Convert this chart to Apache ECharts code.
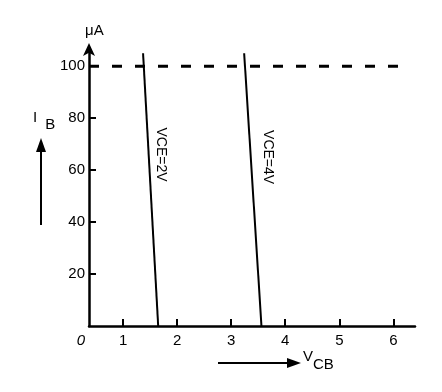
<!DOCTYPE html>
<html>
<head>
<meta charset="utf-8">
<script src="https://cdn.jsdelivr.net/npm/echarts@6/dist/echarts.min.js"></script>
<style>html,body{margin:0;padding:0;background:#fff;}#c{width:442px;height:392px;}</style>
</head>
<body>
<div id="c"></div>
<script>
// ---- data ----
var xTickValues = [1, 2, 3, 4, 5, 6];
var xLabelValues = [0.37, 1, 2, 3, 4, 5, 6];
var yTickValues = [20, 40, 60, 80, 100];
var vce2Line = [[1.37, 105], [1.65, 0]];
var vce4Line = [[3.24, 105], [3.56, 0]];
var ibLimit = [[0.37, 100], [6.1, 100]];
var lineLabels = ['VCE=2V', 'VCE=4V'];
var labelCoords = [[1.69, 66], [3.67, 65]];

var FONT = 'Liberation Sans, Arial, sans-serif';
var chart = echarts.init(document.getElementById('c'));
chart.setOption({
  animation: false,
  backgroundColor: '#fff',
  grid: { left: 89, right: 27, top: 48, bottom: 66 },
  xAxis: {
    type: 'value', min: 0.37, max: 6.4,
    splitLine: { show: false },
    axisLine: { lineStyle: { color: '#000', width: 2.5 } },
    axisTick: { show: true, inside: true, length: 7, customValues: xTickValues, lineStyle: { color: '#000', width: 2 } },
    axisLabel: {
      customValues: xLabelValues, margin: 7, color: '#000', fontFamily: FONT, fontSize: 15,
      formatter: function (v) { return v < 0.5 ? '{z|0}' : String(Math.round(v)); },
      rich: { z: { fontStyle: 'italic', fontFamily: FONT, fontSize: 15, color: '#000', padding: [0, 16, 0, 0] } }
    }
  },
  yAxis: {
    type: 'value', min: 0, max: 107,
    splitLine: { show: false },
    axisLine: { symbol: ['none', 'arrow'], symbolSize: [9, 13], symbolOffset: [0, 5], lineStyle: { color: '#000', width: 2.5 } },
    axisTick: { show: true, inside: true, length: 7, customValues: yTickValues, lineStyle: { color: '#000', width: 2 } },
    axisLabel: { customValues: yTickValues, margin: 4, color: '#000', fontFamily: FONT, fontSize: 15 }
  },
  graphic: [
    { type: 'text', left: 85, top: 23, style: { text: 'μA', font: '15px ' + FONT, fill: '#000' } },
    { type: 'text', left: 33, top: 110, style: { text: '{i|I}{b|B}', rich: { i: { fontSize: 15, fontFamily: FONT, fill: '#000', padding: [0, 8, 8, 0] }, b: { fontSize: 15, fontFamily: FONT, fill: '#000', padding: [6, 0, 0, 0] } } } },
    { type: 'line', shape: { x1: 41, y1: 225, x2: 41, y2: 150 }, style: { stroke: '#000', lineWidth: 2 } },
    { type: 'polygon', shape: { points: [[41, 138], [36, 152], [46, 152]] }, style: { fill: '#000' } },
    { type: 'line', shape: { x1: 218, y1: 363, x2: 290, y2: 363 }, style: { stroke: '#000', lineWidth: 2 } },
    { type: 'polygon', shape: { points: [[301, 363], [287, 358], [287, 368]] }, style: { fill: '#000' } },
    { type: 'text', left: 303, top: 349, style: { text: '{v|V}{s|CB}', rich: { v: { fontSize: 15, fontFamily: FONT, fill: '#000', padding: [0, 0, 8, 0] }, s: { fontSize: 15, fontFamily: FONT, fill: '#000', padding: [8, 0, 0, 0] } } } }
  ],
  series: [
    {
      type: 'line', data: ibLimit, symbol: 'none', silent: true,
      lineStyle: { color: '#000', width: 3, type: [10, 13] }
    },
    {
      type: 'line', data: vce2Line, symbol: 'none', silent: true,
      lineStyle: { color: '#000', width: 2 },
      markPoint: {
        symbol: 'circle', symbolSize: 0, silent: true,
        data: [{ coord: labelCoords[0], value: lineLabels[0] }],
        label: { show: true, position: 'inside', rotate: -90, formatter: lineLabels[0], color: '#000', fontFamily: FONT, fontSize: 14 }
      }
    },
    {
      type: 'line', data: vce4Line, symbol: 'none', silent: true,
      lineStyle: { color: '#000', width: 2 },
      markPoint: {
        symbol: 'circle', symbolSize: 0, silent: true,
        data: [{ coord: labelCoords[1], value: lineLabels[1] }],
        label: { show: true, position: 'inside', rotate: -90, formatter: lineLabels[1], color: '#000', fontFamily: FONT, fontSize: 14 }
      }
    }
  ]
});
</script>
</body>
</html>
